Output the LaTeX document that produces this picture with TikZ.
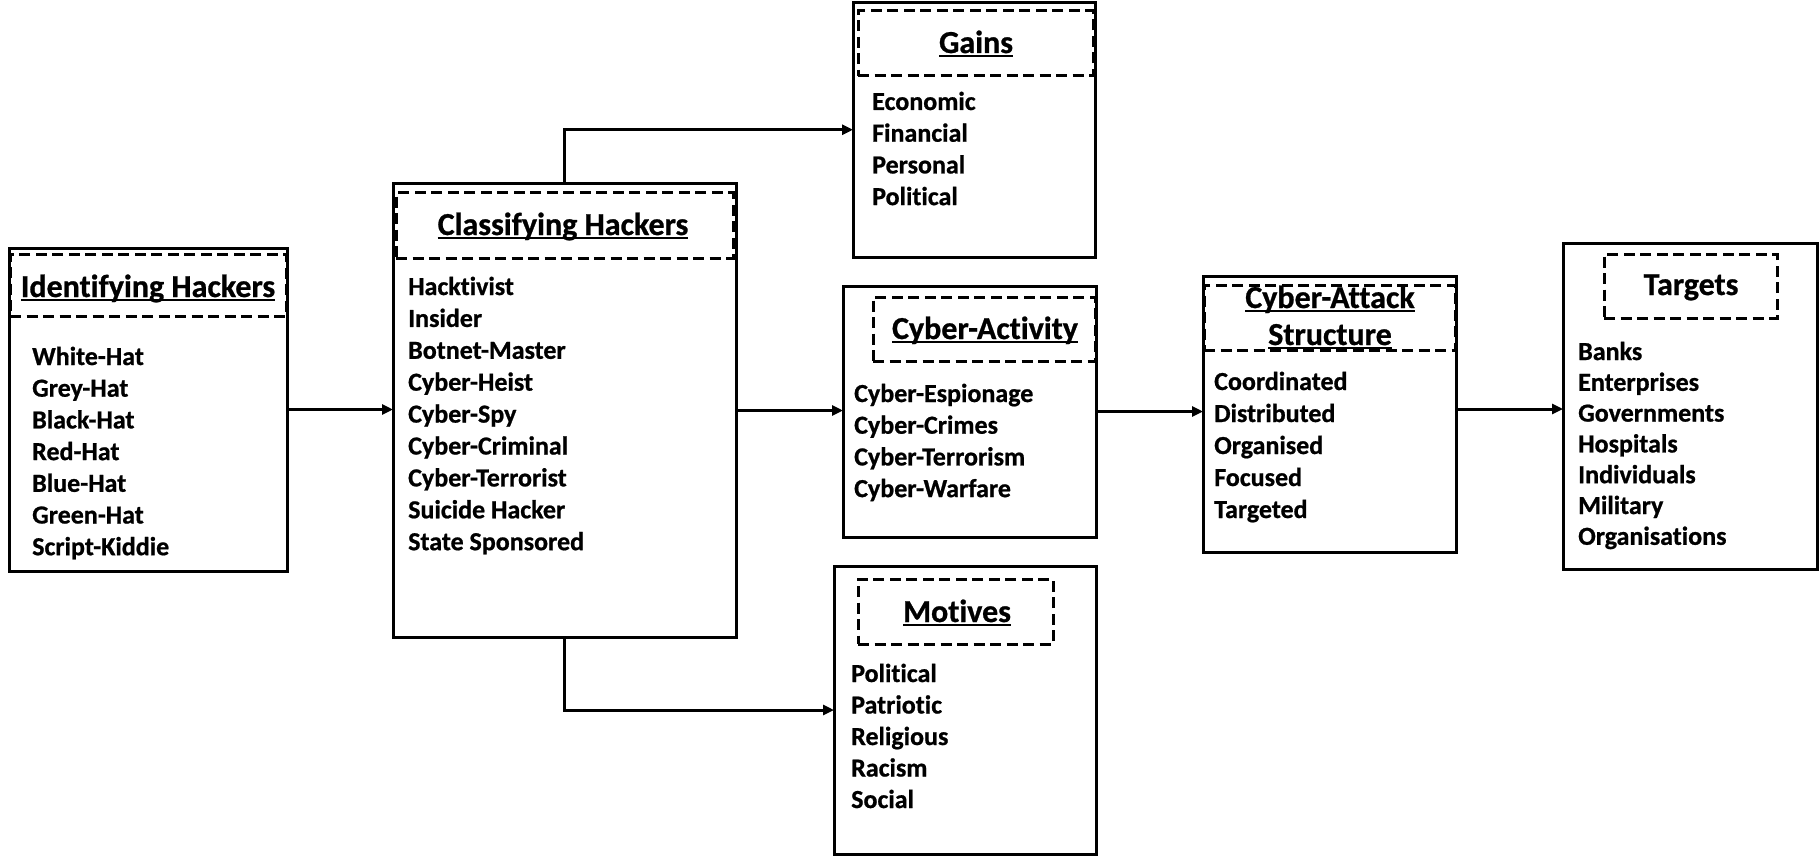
\documentclass[tikz,border=0pt]{standalone}
\usepackage{fontspec}
\setmainfont{Carlito}[Ligatures=NoCommon, BoldFeatures={FakeBold=0.8}]
\usetikzlibrary{arrows.meta}
\newcommand\ulh[1]{\setbox0=\hbox{#1}\rlap{\rule[-0.13em]{\wd0}{0.07em}}\box0}
\begin{document}
\begin{tikzpicture}[x=1pt,y=-1pt,
 obox/.style={draw, line width=3pt, inner sep=0pt, outer sep=0pt, anchor=north west, rectangle},
 hbox/.style={draw, line width=3pt, dash pattern=on 11pt off 5.5pt, inner sep=0pt, outer sep=0pt, anchor=north west, rectangle},
 item/.style={inner sep=0pt, anchor=base west, font=\fontsize{26}{31}\selectfont\bfseries},
 ttl/.style={inner sep=0pt, anchor=base, font=\fontsize{32}{38}\selectfont\bfseries},
 arr/.style={line width=3pt, -{Triangle[length=11pt,width=10pt]}}]
\useasboundingbox (0,0) rectangle (1819,861);

% outer boxes
\node[obox, minimum width=278pt, minimum height=323pt] (ident) at (9,248) {};
\node[obox, minimum width=343pt, minimum height=453pt] (class) at (393,184) {};
\node[obox, minimum width=242pt, minimum height=254.5pt] (gains) at (853,2.5) {};
\node[obox, minimum width=253pt, minimum height=251pt] (activity) at (843,286) {};
\node[obox, minimum width=262pt, minimum height=288pt] (motives) at (834,566) {};
\node[obox, minimum width=253pt, minimum height=276pt] (cas) at (1203,276) {};
\node[obox, minimum width=254pt, minimum height=326pt] (targets) at (1563,243) {};

% dashed headers
\node[hbox, minimum width=276pt, minimum height=62pt] (identH) at (10,254) {};
\node[hbox, minimum width=337pt, minimum height=65pt] (classH) at (396,193) {};
\node[hbox, minimum width=235pt, minimum height=65pt] (gainsH) at (858,11) {};
\node[hbox, minimum width=222pt, minimum height=64pt] (activityH) at (873,297) {};
\node[hbox, minimum width=195pt, minimum height=65pt] (motivesH) at (858,579) {};
\node[hbox, minimum width=251pt, minimum height=65pt] (casH) at (1204,285) {};
\node[hbox, minimum width=173pt, minimum height=64pt] (targetsH) at (1604,254) {};

% titles
\node[ttl] (identT) at (148,297) {\ulh{Identifying Hackers}};
\node[ttl] (classT) at (563,235) {\ulh{Classifying Hackers}};
\node[ttl] (gainsT) at (976,53) {\ulh{Gains}};
\node[ttl] (activityT) at (985,339) {\ulh{Cyber-Activity}};
\node[ttl] (motivesT) at (957,622) {\ulh{Motives}};
\node[ttl] (casT1) at (1330,308) {\ulh{Cyber-Attack}};
\node[ttl] (casT2) at (1330,345) {\ulh{Structure}};
\node[ttl] (targetsT) at (1691,295) {Targets};

% items
\foreach \t [count=\i] in {White-Hat,Grey-Hat,Black-Hat,Red-Hat,Blue-Hat,Green-Hat,Script-Kiddie}
  \node[item] (identI\i) at (32,{365+(\i-1)*31.7}) {\t};
\foreach \t [count=\i] in {Hacktivist,Insider,Botnet-Master,Cyber-Heist,Cyber-Spy,Cyber-Criminal,Cyber-Terrorist,Suicide Hacker,State Sponsored}
  \node[item] (classI\i) at (408,{295+(\i-1)*31.9}) {\t};
\foreach \t [count=\i] in {Economic,Financial,Personal,Political}
  \node[item] (gainsI\i) at (872,{110+(\i-1)*31.7}) {\t};
\foreach \t [count=\i] in {Cyber-Espionage,Cyber-Crimes,Cyber-Terrorism,Cyber-Warfare}
  \node[item] (activityI\i) at (854,{402+(\i-1)*31.7}) {\t};
\foreach \t [count=\i] in {Political,Patriotic,Religious,Racism,Social}
  \node[item] (motivesI\i) at (851,{682+(\i-1)*31.5}) {\t};
\foreach \t [count=\i] in {Coordinated,Distributed,Organised,Focused,Targeted}
  \node[item] (casI\i) at (1214,{390+(\i-1)*32}) {\t};
\foreach \t [count=\i] in {Banks,Enterprises,Governments,Hospitals,Individuals,Military,Organisations}
  \node[item] (targetsI\i) at (1578,{360+(\i-1)*30.8}) {\t};

% connectors
\draw[arr] (ident.east) -- (ident.east -| class.west);
\draw[arr] (class.east) -- (class.east -| activity.west);
\draw[arr] (activity.east) -- (activity.east -| cas.west);
\draw[arr] ([yshift=5pt]cas.east) -- ([yshift=5pt]cas.east -| targets.west);
\draw[arr] (class.north) |- (gains.west);
\draw[arr] (class.south) |- (motives.west);
\end{tikzpicture}
\end{document}
